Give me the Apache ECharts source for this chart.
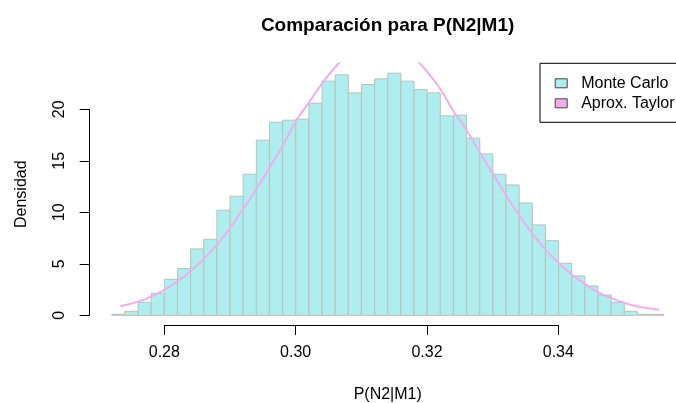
<!DOCTYPE html>
<html>
<head>
<meta charset="utf-8">
<script src="https://cdn.jsdelivr.net/npm/echarts@6/dist/echarts.min.js"></script>
<style>
html,body{margin:0;padding:0;background:#fff;}
#chart{width:676px;height:403px;}
</style>
</head>
<body>
<div id="chart"></div>
<script>
// Histogram bin edges (P(N2|M1))
const binEdges = [0.272,0.274,0.276,0.278,0.280,0.282,0.284,0.286,0.288,0.290,0.292,0.294,0.296,0.298,0.300,
  0.302,0.304,0.306,0.308,0.310,0.312,0.314,0.316,0.318,0.320,0.322,0.324,0.326,0.328,0.330,
  0.332,0.334,0.336,0.338,0.340,0.342,0.344,0.346,0.348,0.350,0.352,0.354,0.356];
// Monte Carlo density per bin
const densities = [0.1,0.39,1.26,2.13,3.49,4.53,6.44,7.38,10.19,11.55,13.69,16.99,18.73,18.93,
  19.03,20.58,22.72,23.33,21.58,22.39,22.94,23.49,22.72,21.9,21.58,19.35,19.42,17.18,15.66,
  13.69,12.65,10.9,8.77,7.24,5.05,3.82,2.85,1.97,1.26,0.39,0.1,0.1];
// Taylor approximation curve
const curveX = [0.2733,0.276,0.278,0.280,0.282,0.284,0.286,0.288,0.290,0.292,0.294,0.296,0.298,0.300,
  0.302,0.304,0.306,0.308,0.310,0.312,0.314,0.316,0.318,0.320,0.322,0.324,0.326,0.328,0.330,
  0.332,0.334,0.336,0.338,0.340,0.342,0.344,0.346,0.348,0.350,0.352,0.3553];
const curveY = [0.88,1.33,1.83,2.47,3.3,4.27,5.46,6.86,8.46,10.35,12.23,14.31,16.46,18.8,
  20.63,22.48,24.07,25.33,26.17,26.57,26.5,25.96,24.99,23.63,21.95,19.8,17.96,15.81,13.75,
  11.62,9.71,7.96,6.38,5.08,3.95,3.05,2.26,1.67,1.21,0.86,0.55];
// Tick labels
const xTicks = [0.28,0.30,0.32,0.34];
const yTicks = [0,5,10,15,20];

const histData = densities.map((d,i)=>[binEdges[i], binEdges[i+1], d]);
const lineData = curveX.map((x,i)=>[x, curveY[i]]);

const FONT = '"Liberation Sans", Arial, sans-serif';
const chart = echarts.init(document.getElementById('chart'), null, {renderer:'canvas'});

chart.setOption({
  animation:false,
  backgroundColor:'#ffffff',
  textStyle:{fontFamily:FONT},
  title:{
    text:'Comparación para P(N2|M1)',
    left:387.6, top:16, padding:0, textAlign:'center',
    textStyle:{fontFamily:FONT, fontSize:19, fontWeight:'bold', color:'#000'}
  },
  legend:{
    orient:'vertical', left:540, top:63.3,
    padding:[12,30,11,14.7], itemGap:4, itemWidth:12, itemHeight:9,
    borderColor:'#000', borderWidth:1, borderRadius:0, backgroundColor:'#fff',
    itemStyle:{borderColor:'#444', borderWidth:1},
    textStyle:{fontFamily:FONT, fontSize:16, lineHeight:16, color:'#000', padding:[0,0,0,9]},
    data:[{name:'Monte Carlo', icon:'rect'},{name:'Aprox. Taylor', icon:'rect'}]
  },
  grid:[
    {left:89.7, right:-9.8, top:63.4, bottom:78, outerBoundsMode:'none', containLabel:false},
    {left:164.3, width:394, top:324, height:1, outerBoundsMode:'none', containLabel:false},
    {left:89.7, width:1, top:109.3, height:206, outerBoundsMode:'none', containLabel:false}
  ],
  xAxis:[
    {gridIndex:0, type:'value', min:0.26864, max:0.35936,
     name:'P(N2|M1)', nameLocation:'middle', nameGap:62,
     nameTextStyle:{fontFamily:FONT, fontSize:16, color:'#000'},
     axisLine:{show:false}, axisTick:{show:false}, axisLabel:{show:false}, splitLine:{show:false}},
    {gridIndex:1, type:'value', min:xTicks[0], max:xTicks[xTicks.length-1], interval:0.02,
     axisLine:{show:true, lineStyle:{color:'#000', width:1}},
     axisTick:{show:true, length:10, lineStyle:{color:'#000'}},
     axisLabel:{show:true, margin:20, fontFamily:FONT, fontSize:16, color:'#000',
       formatter:v=>v.toFixed(2)},
     splitLine:{show:false}},
    {gridIndex:2, type:'value', show:false, min:0, max:1}
  ],
  yAxis:[
    {gridIndex:0, type:'value', min:-0.94, max:24.44,
     name:'Densidad', nameLocation:'middle', nameGap:60, nameRotate:90,
     nameTextStyle:{fontFamily:FONT, fontSize:16, color:'#000'},
     axisLine:{show:false}, axisTick:{show:false}, axisLabel:{show:false}, splitLine:{show:false}},
    {gridIndex:1, type:'value', show:false, min:0, max:1},
    {gridIndex:2, type:'value', min:yTicks[0], max:yTicks[yTicks.length-1], interval:5,
     axisLine:{show:true, lineStyle:{color:'#000', width:1}},
     axisTick:{show:true, length:10, lineStyle:{color:'#000'}},
     axisLabel:{show:true, rotate:90, margin:22, fontFamily:FONT, fontSize:16, color:'#000'},
     splitLine:{show:false}}
  ],
  series:[
    {
      name:'Monte Carlo', type:'custom', xAxisIndex:0, yAxisIndex:0,
      clip:true,
      itemStyle:{color:'#AFEEEE', borderColor:'#BEBEBE', borderWidth:1},
      encode:{x:[0,1], y:2},
      data:histData,
      renderItem:function(params, api){
        const p0 = api.coord([api.value(0), 0]);
        const p1 = api.coord([api.value(1), api.value(2)]);
        return {
          type:'rect',
          shape:{x:p0[0], y:p1[1], width:p1[0]-p0[0], height:p0[1]-p1[1]},
          style:{fill:'#AFEEEE', stroke:'#BEBEBE', lineWidth:1}
        };
      }
    },
    {
      name:'Aprox. Taylor', type:'line', xAxisIndex:0, yAxisIndex:0,
      data:lineData, showSymbol:false, smooth:true, clip:true,
      itemStyle:{color:'#EEAEEE'},
      lineStyle:{color:'#EEAEEE', width:2}
    }
  ]
});
</script>
</body>
</html>
